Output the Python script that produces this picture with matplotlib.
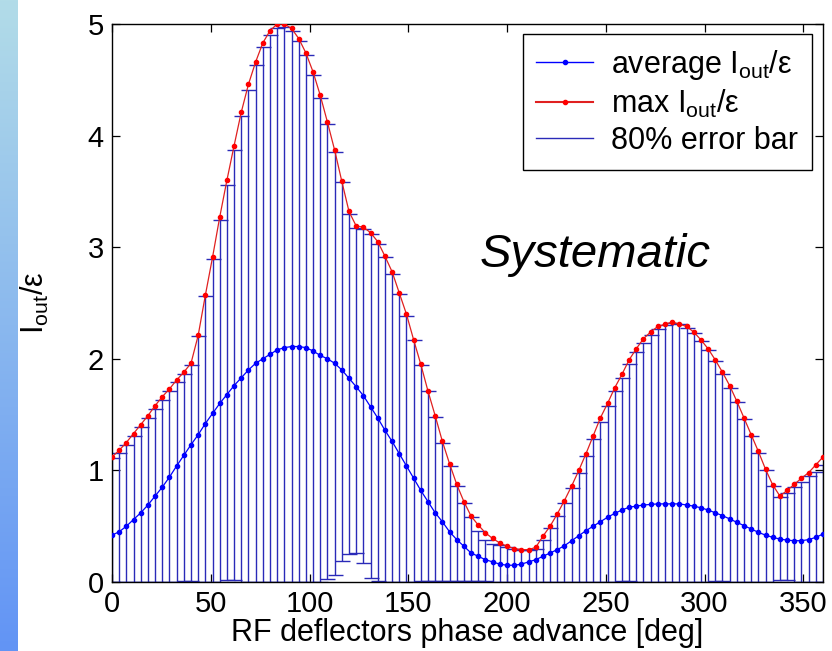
import numpy as np
import matplotlib
matplotlib.use("Agg")
import matplotlib.pyplot as plt
from matplotlib.lines import Line2D

plt.rcParams['font.family'] = ['Liberation Sans', 'DejaVu Sans']
plt.rcParams['mathtext.fontset'] = 'custom'
plt.rcParams['mathtext.rm'] = 'Liberation Sans'
plt.rcParams['mathtext.it'] = 'Liberation Sans:italic'

# phase advance samples (100 points from 0 to 360 deg)
phase = np.linspace(0, 360, 100)

max_iout = [1.12, 1.18, 1.25, 1.33, 1.41, 1.49, 1.58, 1.66, 1.73, 1.81,
            1.88, 1.96, 2.21, 2.57, 2.91, 3.27, 3.60, 3.91, 4.21, 4.46,
            4.66, 4.83, 4.94, 5.00, 5.00, 4.96, 4.87, 4.74, 4.57, 4.36,
            4.12, 3.87, 3.59, 3.32, 3.19, 3.18, 3.13, 3.05, 2.92, 2.78,
            2.59, 2.40, 2.17, 1.95, 1.71, 1.49, 1.26, 1.06, 0.875, 0.72,
            0.59, 0.51, 0.44, 0.39, 0.35, 0.32, 0.30, 0.29, 0.29, 0.31,
            0.41, 0.50, 0.61, 0.73, 0.86, 1.00, 1.15, 1.31, 1.47, 1.60,
            1.74, 1.86, 1.99, 2.09, 2.18, 2.24, 2.29, 2.31, 2.33, 2.31,
            2.29, 2.24, 2.17, 2.09, 1.99, 1.88, 1.76, 1.62, 1.47, 1.32,
            1.17, 1.01, 0.87, 0.77, 0.82, 0.875, 0.93, 0.98, 1.05, 1.12]

avg_iout = [0.42, 0.45, 0.50, 0.56, 0.62, 0.69, 0.77, 0.85, 0.94, 1.04,
            1.135, 1.23, 1.32, 1.42, 1.51, 1.60, 1.68, 1.76, 1.83, 1.90,
            1.96, 2.00, 2.04, 2.08, 2.10, 2.11, 2.11, 2.10, 2.07, 2.03,
            2.00, 1.96, 1.90, 1.825, 1.75, 1.67, 1.57, 1.47, 1.36, 1.26,
            1.15, 1.04, 0.93, 0.82, 0.72, 0.62, 0.54, 0.45, 0.38, 0.32,
            0.26, 0.23, 0.20, 0.18, 0.16, 0.15, 0.15, 0.16, 0.18, 0.20,
            0.23, 0.26, 0.29, 0.325, 0.37, 0.415, 0.46, 0.50, 0.54, 0.58,
            0.615, 0.645, 0.67, 0.68, 0.69, 0.695, 0.70, 0.70, 0.70, 0.70,
            0.69, 0.68, 0.665, 0.645, 0.62, 0.595, 0.565, 0.535, 0.505, 0.475,
            0.445, 0.42, 0.40, 0.385, 0.375, 0.37, 0.37, 0.38, 0.40, 0.43]

err_upper = [1.11, 1.16, 1.23, 1.31, 1.39, 1.47, 1.55, 1.63, 1.71, 1.79,
             1.86, 1.94, 2.20, 2.56, 2.89, 3.24, 3.56, 3.87, 4.18, 4.41,
             4.63, 4.79, 4.90, 4.96, 4.97, 4.94, 4.85, 4.72, 4.54, 4.34,
             4.10, 3.85, 3.58, 3.30, 3.17, 3.16, 3.12, 3.03, 2.91, 2.76,
             2.58, 2.38, 2.17, 1.94, 1.71, 1.48, 1.25, 1.04, 0.86, 0.71,
             0.58, 0.46, 0.38, 0.34, 0.33, 0.31, 0.30, 0.29, 0.29, 0.30,
             0.38, 0.48, 0.59, 0.71, 0.84, 0.98, 1.13, 1.28, 1.43, 1.58,
             1.71, 1.83, 1.95, 2.06, 2.14, 2.21, 2.27, 2.30, 2.32, 2.31,
             2.28, 2.23, 2.16, 2.08, 1.98, 1.86, 1.74, 1.61, 1.46, 1.31,
             1.16, 1.00, 0.86, 0.76, 0.80, 0.85, 0.90, 0.95, 0.99, 1.05]

err_lower = [0.00, 0.00, 0.00, 0.00, 0.00, 0.00, 0.00, 0.00, 0.00, 0.00,
             0.01, 0.01, 0.00, 0.00, 0.00, 0.00, 0.02, 0.02, 0.00, 0.00,
             0.00, 0.00, 0.00, 0.00, 0.00, 0.00, 0.00, 0.00, 0.00, 0.00,
             0.03, 0.06, 0.19, 0.25, 0.26, 0.17, 0.04, 0.01, 0.00, 0.00,
             0.00, 0.00, 0.00, 0.005, 0.005, 0.005, 0.005, 0.005, 0.005, 0.005,
             0.005, 0.005, 0.005, 0.00, 0.00, 0.00, 0.00, 0.00, 0.00, 0.00,
             0.00, 0.00, 0.00, 0.00, 0.00, 0.00, 0.00, 0.00, 0.00, 0.00,
             0.00, 0.01, 0.01, 0.00, 0.00, 0.00, 0.00, 0.00, 0.00, 0.00,
             0.00, 0.00, 0.00, 0.00, 0.01, 0.01, 0.00, 0.00, 0.00, 0.00,
             0.00, 0.00, 0.00, 0.02, 0.02, 0.00, 0.00, 0.00, 0.00, 0.00]

xticks = [0, 50, 100, 150, 200, 250, 300, 350]
yticks = [0, 1, 2, 3, 4, 5]

fig = plt.figure(figsize=(8.32, 6.51), dpi=100)

# slide background strip on the left
strip = fig.add_axes([0, 0, 18 / 832, 1])
top_c = np.array([178, 220, 232]) / 255
bot_c = np.array([98, 148, 245]) / 255
t = np.linspace(0, 1, 256)[:, None]
grad = (top_c[None, :] * (1 - t) + bot_c[None, :] * t)[:, None, :]
strip.imshow(grad, aspect='auto', extent=[0, 1, 0, 1])
strip.axis('off')

ax = fig.add_axes([112 / 832, 1 - 582 / 651, 711 / 832, 558 / 651])

avg = np.array(avg_iout)
yerr = [avg - np.array(err_lower), np.array(err_upper) - avg]
ax.errorbar(phase, avg, yerr=yerr, fmt='none', ecolor='#2a2ab8',
            elinewidth=1.0, capsize=5.4, capthick=1.0, zorder=2)
ax.plot(phase, avg_iout, color='#0000ff', lw=0.9, marker='.', ms=6,
        mfc='#0000ff', mec='#0000ff', zorder=4)
ax.plot(phase, max_iout, color='#e02020', lw=0.9, marker='.', ms=6,
        mfc='#ff0000', mec='#ff0000', zorder=5)

ax.set_xlim(0, 360)
ax.set_ylim(0, 5)
ax.set_xticks(xticks)
ax.set_yticks(yticks)
ax.tick_params(direction='in', top=True, right=True, length=6, width=0.9,
               labelsize=21, pad=6)
for s in ax.spines.values():
    s.set_linewidth(1.0)

ax.set_xlabel('RF deflectors phase advance [deg]', fontsize=22, labelpad=0)
ax.set_ylabel(r'I$_{\mathregular{out}}$/ε', fontsize=22, labelpad=26)

ax.text(186, 2.82, 'Systematic', fontsize=34, style='italic',
        ha='left', va='baseline')

handles = [
    Line2D([], [], color='#0000ff', lw=1, marker='.', ms=6),
    Line2D([], [], color='#e02020', lw=1.5, marker='.', ms=6, mfc='#ff0000', mec='#ff0000'),
    Line2D([], [], color='#2a2ab8', lw=1),
]
labels = [r'average I$_{\mathregular{out}}$/ε', r'max I$_{\mathregular{out}}$/ε',
          '80% error bar']
leg = ax.legend(handles, labels, loc='upper right',
                bbox_to_anchor=(0.9845, 0.982), borderaxespad=0,
                fontsize=22, fancybox=False, framealpha=1, edgecolor='black',
                handlelength=1.85, handletextpad=0.6, labelspacing=0.2,
                borderpad=0.45)
leg.get_frame().set_linewidth(1.0)

fig.savefig('out.png', dpi=100)
